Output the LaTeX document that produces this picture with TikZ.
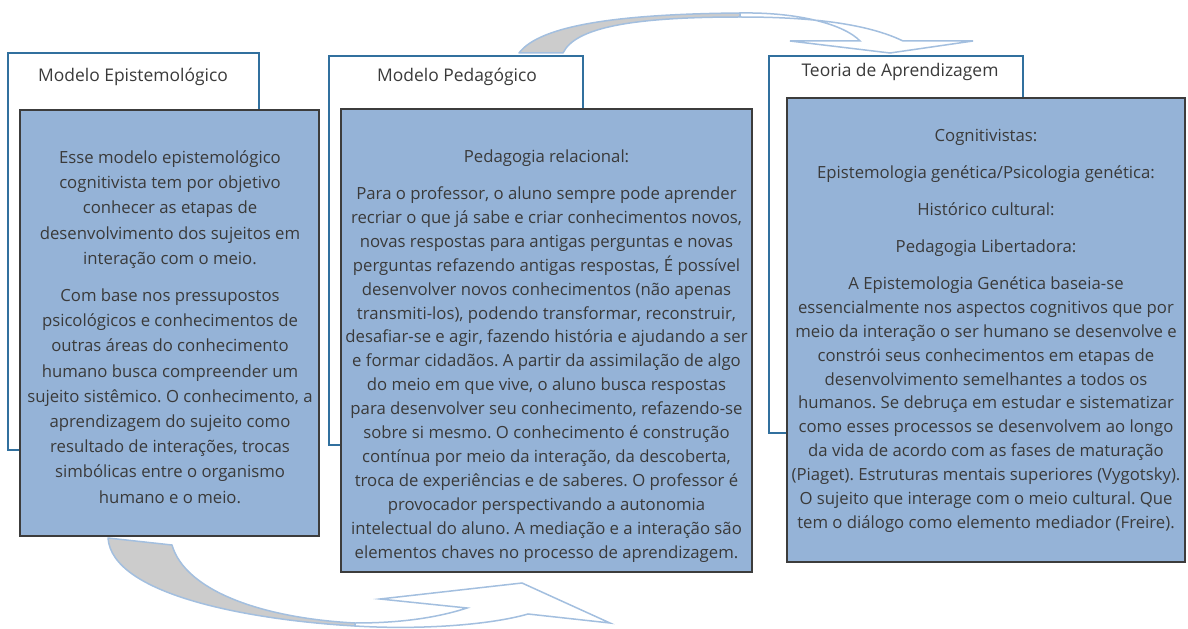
\documentclass[tikz,border=0pt]{standalone}
\usepackage{fontspec}
\setmainfont{Open Sans}
\frenchspacing
\definecolor{boxblue}{RGB}{149,179,215}
\definecolor{frameblue}{RGB}{49,112,158}
\definecolor{arrowblue}{RGB}{163,191,223}
\definecolor{txt}{RGB}{58,58,58}
\definecolor{ribbongray}{RGB}{204,204,204}
\definecolor{infoframe}{RGB}{60,60,60}
\tikzset{
  labelbox/.style={draw=frameblue, line width=1.2bp, fill=white, inner sep=0pt, outer sep=0pt, anchor=north west},
  infobox/.style={draw=infoframe, line width=1.5bp, fill=boxblue, inner sep=0pt, outer sep=0pt, anchor=north west},
  labeltext/.style={text=txt, font=\fontsize{17.5}{20}\selectfont, inner sep=0pt},
  bodytext/.style={text=txt, font=\fontsize{16.8}{24}\selectfont, align=center, inner sep=0pt},
  ribbonback/.style={fill=ribbongray, draw=arrowblue, line width=1.5bp, line join=round},
  ribbonfront/.style={fill=white, draw=arrowblue, line width=1.5bp, line join=miter}
}
\begin{document}
\begin{tikzpicture}[x=1bp,y=-1bp]
\useasboundingbox (0,0) rectangle (1188,629);

% top curved arrow
\path[ribbonback] (519,53) .. controls (540,25) and (620,14) .. (740,13) -- (740,17) .. controls (630,17) and (575,28) .. (563,53) -- cycle;
\path[ribbonfront] (740,13) .. controls (800,12) and (845,25) .. (860,41) -- (790,41) -- (890,53) -- (973,41) -- (903,41) .. controls (860,20) and (790,17) .. (740,17) -- cycle;

% label boxes
\node[labelbox, minimum width=251bp, minimum height=397bp] (lab1) at (8,53) {};
\node[labelbox, minimum width=254bp, minimum height=389bp] (lab2) at (329,56) {};
\node[labelbox, minimum width=254bp, minimum height=377bp] (lab3) at (769,56) {};

\node[labeltext] (t1) at (133,77) {Modelo Epistemológico};
\node[labeltext] (t2) at (457,77) {Modelo Pedagógico};
\node[labeltext] (t3) at (900,72) {Teoria de Aprendizagem};

% content boxes
\node[infobox, minimum width=299bp, minimum height=426bp] (b1) at (20,110) {};
\node[infobox, minimum width=411bp, minimum height=463bp] (b2) at (341,109) {};
\node[infobox, minimum width=398bp, minimum height=464bp] (b3) at (787,98) {};

\node[bodytext, font=\fontsize{16.8}{25.3}\selectfont] (c1) at (170,327) {Esse modelo epistemológico\\
cognitivista tem por objetivo\\
conhecer as etapas de\\
desenvolvimento dos sujeitos em\\
interação com o meio.\\[12bp]
Com base nos pressupostos\\
psicológicos e conhecimentos de\\
outras áreas do conhecimento\\
humano busca compreender um\\
sujeito sistêmico. O conhecimento, a\\
aprendizagem do sujeito como\\
resultado de interações, trocas\\
simbólicas entre o organismo\\
humano e o meio.};

\node[bodytext] (c2) at (546.5,356) {Pedagogia relacional:\\[13bp]
Para o professor, o aluno sempre pode aprender\\
recriar o que já sabe e criar conhecimentos novos,\\
novas respostas para antigas perguntas e novas\\
perguntas refazendo antigas respostas, É possível\\
desenvolver novos conhecimentos (não apenas\\
transmiti-los), podendo transformar, reconstruir,\\
desafiar-se e agir, fazendo história e ajudando a ser\\
e formar cidadãos. A partir da assimilação de algo\\
do meio em que vive, o aluno busca respostas\\
para desenvolver seu conhecimento, refazendo-se\\
sobre si mesmo. O conhecimento é construção\\
contínua por meio da interação, da descoberta,\\
troca de experiências e de saberes. O professor é\\
provocador perspectivando a autonomia\\
intelectual do aluno. A mediação e a interação são\\
elementos chaves no processo de aprendizagem.};

\node[bodytext] (c3) at (986,331) {Cognitivistas:\\[13bp]
Epistemologia genética/Psicologia genética:\\[13bp]
Histórico cultural:\\[13bp]
Pedagogia Libertadora:\\[13bp]
A Epistemologia Genética baseia-se\\
essencialmente nos aspectos cognitivos que por\\
meio da interação o ser humano se desenvolve e\\
constrói seus conhecimentos em etapas de\\
desenvolvimento semelhantes a todos os\\
humanos. Se debruça em estudar e sistematizar\\
como esses processos se desenvolvem ao longo\\
da vida de acordo com as fases de maturação\\
(Piaget). Estruturas mentais superiores (Vygotsky).\\
O sujeito que interage com o meio cultural. Que\\
tem o diálogo como elemento mediador (Freire).};

% bottom curved arrow
\path[ribbonback] (108,538) .. controls (112,595) and (250,620) .. (355,626) -- (355,623) .. controls (260,618) and (185,590) .. (172,545) -- cycle;
\path[ribbonfront] (355,626) .. controls (420,630) and (490,625) .. (528,614) -- (610,623) -- (522,583) -- (380,599) -- (467,608) .. controls (430,620) and (390,623) .. (355,623) -- cycle;
\end{tikzpicture}
\end{document}
